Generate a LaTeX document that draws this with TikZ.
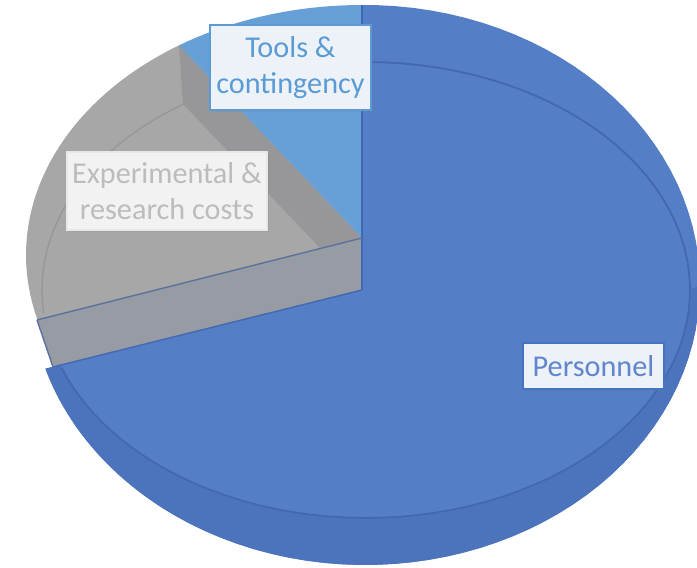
\documentclass[tikz,border=0pt]{standalone}
\usepackage{fontspec}
\setmainfont{Carlito}
\usepackage{tikz}
\usetikzlibrary{shadows}
\usepackage{xcolor}

\definecolor{persblue}{RGB}{84,126,197}
\definecolor{persedge}{RGB}{66,104,178}
\definecolor{toolblue}{RGB}{103,160,214}
\definecolor{expgrey}{RGB}{167,167,167}
\definecolor{expdark}{RGB}{151,151,153}
\definecolor{expface}{RGB}{150,155,164}
\definecolor{sidedark}{RGB}{34,52,96}
\definecolor{sidemid}{RGB}{76,116,188}
\pgfdeclarehorizontalshading{pieside}{100bp}{color(0bp)=(sidedark); color(7bp)=(sidemid); color(93bp)=(sidemid); color(100bp)=(sidedark)}

\tikzset{
  lblbox/.style={line width=0.8pt, inner sep=0pt, align=center,
    font=\fontsize{8.6}{10.2}\selectfont,
    drop shadow={opacity=0.2, shadow xshift=0.6pt, shadow yshift=-0.6pt}},
}

\begin{document}
\begin{tikzpicture}[x=0.01cm, y=-0.01cm]
\useasboundingbox (0,0) rectangle (697,568);

% Personnel slice, pulled towards the viewer
\begin{scope}
\clip (362,-20) -- (720,-20) -- (720,600) -- (0,600) -- (0,380) -- (362,290) -- cycle;
\fill[persblue] plot[domain=0:360, samples=120] ({365+335*cos(\x)},{285+280*sin(\x)}) -- cycle;
\shade[shading=pieside] plot[domain=0:180, samples=60] ({365+335*cos(\x)},{285+280*sin(\x)})
  -- plot[domain=180:0, samples=60] ({366+324*cos(\x)},{290+228*sin(\x)}) -- cycle;
\draw[persedge, line width=0.5pt] plot[domain=-90:160, samples=80] ({366+324*cos(\x)},{290+228*sin(\x)});
\end{scope}

% Experimental slice, front cut face
\fill[expface] (362,238) -- (362,290) -- (53,367) -- (37,320) -- cycle;

% Experimental slice, top
\fill[expgrey] (362,238) -- plot[domain=165:237, samples=40] ({362+336*cos(\x)},{255+250*sin(\x)}) -- cycle;
\fill[expdark] (179,45) -- (362,238) -- (320,248) -- (183,104) -- cycle;
\draw[expdark, line width=0.4pt] plot[domain=174:236, samples=30] ({362+320*cos(\x)},{290+224*sin(\x)});

% Tools slice
\fill[toolblue] (362,238) -- plot[domain=237:270, samples=20] ({362+336*cos(\x)},{255+250*sin(\x)}) -- cycle;

% slice edges
\draw[persedge, line width=0.6pt] (362,5) -- (362,290);
\draw[persedge!60!gray, line width=0.4pt] (37,320) -- (362,238);
\draw[persedge, line width=0.4pt] (53,367) -- (362,290);
\draw[persedge!60!gray, line width=0.4pt] (37,320) -- (53,367);

% labels
\node[lblbox, draw={rgb,255:red,91;green,155;blue,213}, fill={rgb,255:red,237;green,242;blue,249},
  text={rgb,255:red,91;green,155;blue,213}, minimum width=1.61cm, minimum height=0.85cm]
  (tools) at (290.5,67.5) {Tools \&\\contingency};
\node[lblbox, draw={rgb,255:red,232;green,232;blue,232}, fill={rgb,255:red,242;green,242;blue,242},
  text={rgb,255:red,188;green,188;blue,188}, minimum width=2.0cm, minimum height=0.78cm]
  (exper) at (167,191) {Experimental \&\\research costs};
\node[lblbox, draw={rgb,255:red,68;green,114;blue,196}, fill={rgb,255:red,237;green,241;blue,248},
  text={rgb,255:red,96;green,134;blue,204}, minimum width=1.41cm, minimum height=0.46cm]
  (pers) at (593.5,366) {Personnel};
\end{tikzpicture}
\end{document}
